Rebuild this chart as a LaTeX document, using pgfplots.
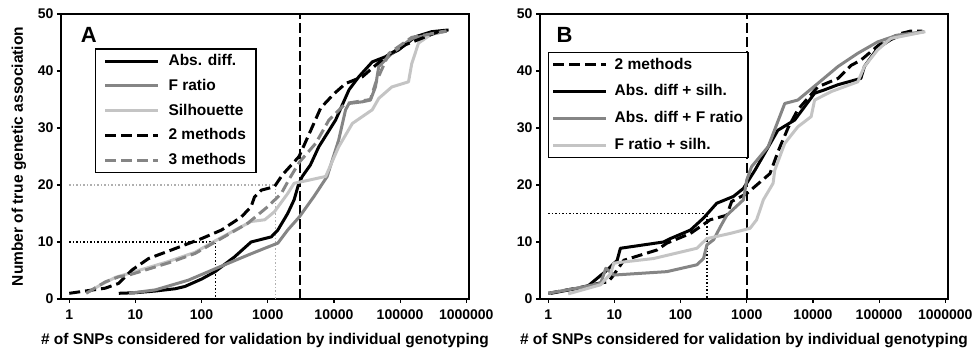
\documentclass[border=0pt]{standalone}
\usepackage{fontspec}
\setmainfont{Liberation Sans}
\usepackage{pgfplots}
\pgfplotsset{compat=1.18}
\definecolor{dgray}{HTML}{858585}
\definecolor{lgray}{HTML}{C4C4C4}
\definecolor{ldot}{HTML}{B0B0B0}
\tikzset{
 solidblack/.style={black, solid},
 solidd/.style={dgray, solid},
 solidl/.style={lgray, solid},
 dashblack/.style={black, dash pattern=on 11pt off 5pt},
 dashgray/.style={dgray, dash pattern=on 11pt off 5pt},
 refdash/.style={black, line width=1.6pt, dash pattern=on 10pt off 4pt},
 refdot/.style={black, line width=1.5pt, dash pattern=on 1.3pt off 2.2pt},
 refdotl/.style={ldot, line width=1.5pt, dash pattern=on 1.3pt off 2.2pt},
}
\begin{document}
\begin{tikzpicture}
\path[use as bounding box] (0pt,0pt) rectangle (975pt,356pt);
% ---------------- Panel A ----------------
\begin{axis}[
  scale only axis, width=408pt, height=285pt,
  xmode=log, xmin=0.75, xmax=1.1e6, ymin=0, ymax=50,
  xtick={1,10,100,1000,10000,100000,1000000},
  xticklabels={1,10,100,1000,10000,100000,1000000},
  ytick={0,10,20,30,40,50},
  yticklabels={0,10,20,30,40,50},
  xminorticks=false, yminorticks=false,
  tick align=outside, xtick pos=bottom, ytick pos=left,
  major tick length=4pt,
  axis line style={line width=1.6pt},
  every tick/.style={black, line width=1.2pt},
  tick label style={font=\fontsize{14}{16}\selectfont\bfseries},
  xticklabel style={yshift=-3pt},
  label style={font=\fontsize{15.5}{18}\selectfont\bfseries},
  xlabel style={at={(axis description cs:0.5,-0.144)}, anchor=center},
  xlabel={\# of SNPs considered for validation by individual genotyping},
  legend cell align=left,
  legend image code/.code={\draw[#1] (0pt,0pt) -- (53pt,0pt);},
  every axis plot/.append style={line width=3pt, line join=round},
  at={(61pt,57pt)}, anchor=south west,
  ylabel={Number of true genetic association},
  ylabel style={at={(axis description cs:-0.103,0.5)}, anchor=center},
  legend style={at={(axis description cs:0.083,0.88)}, anchor=north west,
    draw=black, line width=1.4pt, inner xsep=8pt, inner ysep=3pt,
    font=\fontsize{15.5}{18}\selectfont\bfseries,
    nodes={inner sep=2pt, text height=11.5pt, text depth=3pt},
    row sep=6.3pt,
    /tikz/every odd column/.append style={column sep=7pt}},
]
\addplot[refdot, forget plot] coordinates {(1,10) (162,10) (162,0)};
\addplot[refdotl, forget plot] coordinates {(1,20) (1300,20) (1300,0)};
\addplot[refdash, forget plot] coordinates {(3100,0) (3100,50)};
\addplot[solidblack] coordinates {(5.6,1)(10,1.1)(20,1.4)(40,1.8)(56,2.2)(100,3.5)(160,4.8)(315,7.4)(560,10)(1130,10.9)(1420,12.1)(2000,15)(2500,17.4)(2900,20)(3320,21.5)(4400,23.5)(5900,26.7)(10600,31.4)(16900,36.7)(23800,39)(38000,41.6)(60000,42.5)(95000,43.7)(170000,46)(300000,46.9)(540000,47.2)};
\addlegendentry{Abs. diff.}
\addplot[solidd] coordinates {(8,1)(20,1.6)(63,3.3)(160,5.3)(500,7.7)(900,8.9)(1420,9.8)(2000,12.1)(3000,14.4)(5000,18)(7900,21.5)(11800,27.9)(15000,33.2)(16900,34.3)(27000,34.6)(35600,34.9)(42400,37.2)(47600,40.8)(75000,43.1)(150000,45.7)(500000,47)};
\addlegendentry{F ratio}
\addplot[solidl] coordinates {(2,1.3)(3,2.5)(5,3.8)(8,4.5)(30,6.5)(80,8.2)(160,10.2)(560,13.6)(900,13.9)(1260,15.3)(2000,18.5)(2500,20.3)(4000,20.8)(7500,21.5)(11800,26.7)(19000,30.8)(38000,33.2)(47600,35.2)(75000,37.2)(134000,38.1)(150000,41.3)(190000,44.9)(300000,46.5)(500000,47)};
\addlegendentry{Silhouette}
\addplot[dashblack] coordinates {(1,1)(3.5,1.9)(5.6,2.75)(8.9,5.1)(15.8,7.1)(35,8.6)(56,9.5)(100,10.6)(200,12.1)(400,14.4)(560,16.2)(630,17.9)(800,19.1)(1260,19.7)(1670,21.8)(2970,25)(4470,29.6)(6300,33.5)(10000,36)(15000,37.8)(27000,39)(60000,42.5)(120000,44.6)(380000,46.9)(500000,47)};
\addlegendentry{2 methods}
\addplot[dashgray] coordinates {(1.8,1)(2.2,1.6)(3.5,3)(5.6,3.9)(8,4.2)(35,6.5)(80,8)(160,10)(500,13.3)(1000,16.2)(1600,18.5)(2100,21)(3000,24)(5300,27.3)(8400,31.4)(15000,34.3)(35600,35)(42400,37.8)(68000,43.1)(150000,45.9)(500000,47)};
\addlegendentry{3 methods}
\node[font=\fontsize{22}{25}\selectfont\bfseries, anchor=west] at (axis description cs:0.04,0.928) {A};
\end{axis}
% ---------------- Panel B ----------------
\begin{axis}[
  scale only axis, width=408pt, height=285pt,
  xmode=log, xmin=0.75, xmax=1.1e6, ymin=0, ymax=50,
  xtick={1,10,100,1000,10000,100000,1000000},
  xticklabels={1,10,100,1000,10000,100000,1000000},
  ytick={0,10,20,30,40,50},
  yticklabels={0,10,20,30,40,50},
  xminorticks=false, yminorticks=false,
  tick align=outside, xtick pos=bottom, ytick pos=left,
  major tick length=4pt,
  axis line style={line width=1.6pt},
  every tick/.style={black, line width=1.2pt},
  tick label style={font=\fontsize{14}{16}\selectfont\bfseries},
  xticklabel style={yshift=-3pt},
  label style={font=\fontsize{15.5}{18}\selectfont\bfseries},
  xlabel style={at={(axis description cs:0.5,-0.144)}, anchor=center},
  xlabel={\# of SNPs considered for validation by individual genotyping},
  legend cell align=left,
  legend image code/.code={\draw[#1] (0pt,0pt) -- (53pt,0pt);},
  every axis plot/.append style={line width=3pt, line join=round},
  at={(540pt,57pt)}, anchor=south west,
  legend style={at={(axis description cs:0.0196,0.867)}, anchor=north west,
    draw=black, line width=1.4pt, inner xsep=3pt, inner ysep=3pt,
    font=\fontsize{15.5}{18}\selectfont\bfseries,
    nodes={inner sep=2pt, text height=11.5pt, text depth=3pt},
    row sep=8.3pt,
    /tikz/every odd column/.append style={column sep=5pt}},
]
\addplot[refdot, forget plot] coordinates {(1,15) (250,15) (250,0)};
\addplot[refdash, forget plot] coordinates {(1000,0) (1000,50)};
\addplot[dashblack] coordinates {(1,1)(3,2)(6,2.8)(8,3)(9.3,3.9)(13.9,6.8)(44,8.6)(62,9.8)(141,11.5)(280,13.9)(500,14.7)(590,17.1)(1000,18.5)(2240,22)(3000,26)(4200,30)(5900,33.2)(11800,37.2)(24000,38.7)(38000,41)(53000,41.9)(100000,44.6)(200000,46.5)(300000,47)(450000,47)};
\addlegendentry{2 methods}
\addplot[solidblack] coordinates {(1.1,1)(3.9,2.2)(7.8,5.1)(11,6.8)(12.3,8.9)(55,10)(70,10.6)(141,12.1)(222,14.2)(352,16.8)(630,18)(890,19.4)(1330,22.6)(2950,29.6)(5300,31.4)(10600,36.1)(15000,36.7)(24000,37.6)(53000,38.7)(60000,40.8)(95000,44)(150000,45.5)(300000,47)};
\addlegendentry{Abs. diff + silh.}
\addplot[solidd] coordinates {(1,1)(3,2)(6.2,2.75)(7.4,5.4)(9.8,4.2)(62,4.8)(176,6)(222,7.1)(250,9.5)(316,10.4)(400,12.7)(500,14.7)(890,17.4)(1000,20.9)(1180,23.2)(2100,26.7)(3750,34.3)(5900,34.9)(11800,37.8)(24000,40.8)(47600,43.1)(95000,45.1)(190000,46.3)(480000,46.9)};
\addlegendentry{Abs. diff + F ratio}
\addplot[solidl] coordinates {(2,0.9)(6.2,2.5)(8.8,4.5)(9.8,6.3)(39,7.1)(176,8.9)(250,10.6)(560,11.5)(1120,12.4)(1410,13.9)(1780,17.4)(2500,20.3)(2650,22.6)(3750,27.3)(5900,30.2)(9400,32)(10600,34.9)(19000,36.4)(47600,38.1)(60000,40.8)(95000,43.7)(150000,45.7)(500000,46.9)};
\addlegendentry{F ratio + silh.}
\node[font=\fontsize{22}{25}\selectfont\bfseries, anchor=west] at (axis description cs:0.032,0.928) {B};
\end{axis}
\end{tikzpicture}
\end{document}
